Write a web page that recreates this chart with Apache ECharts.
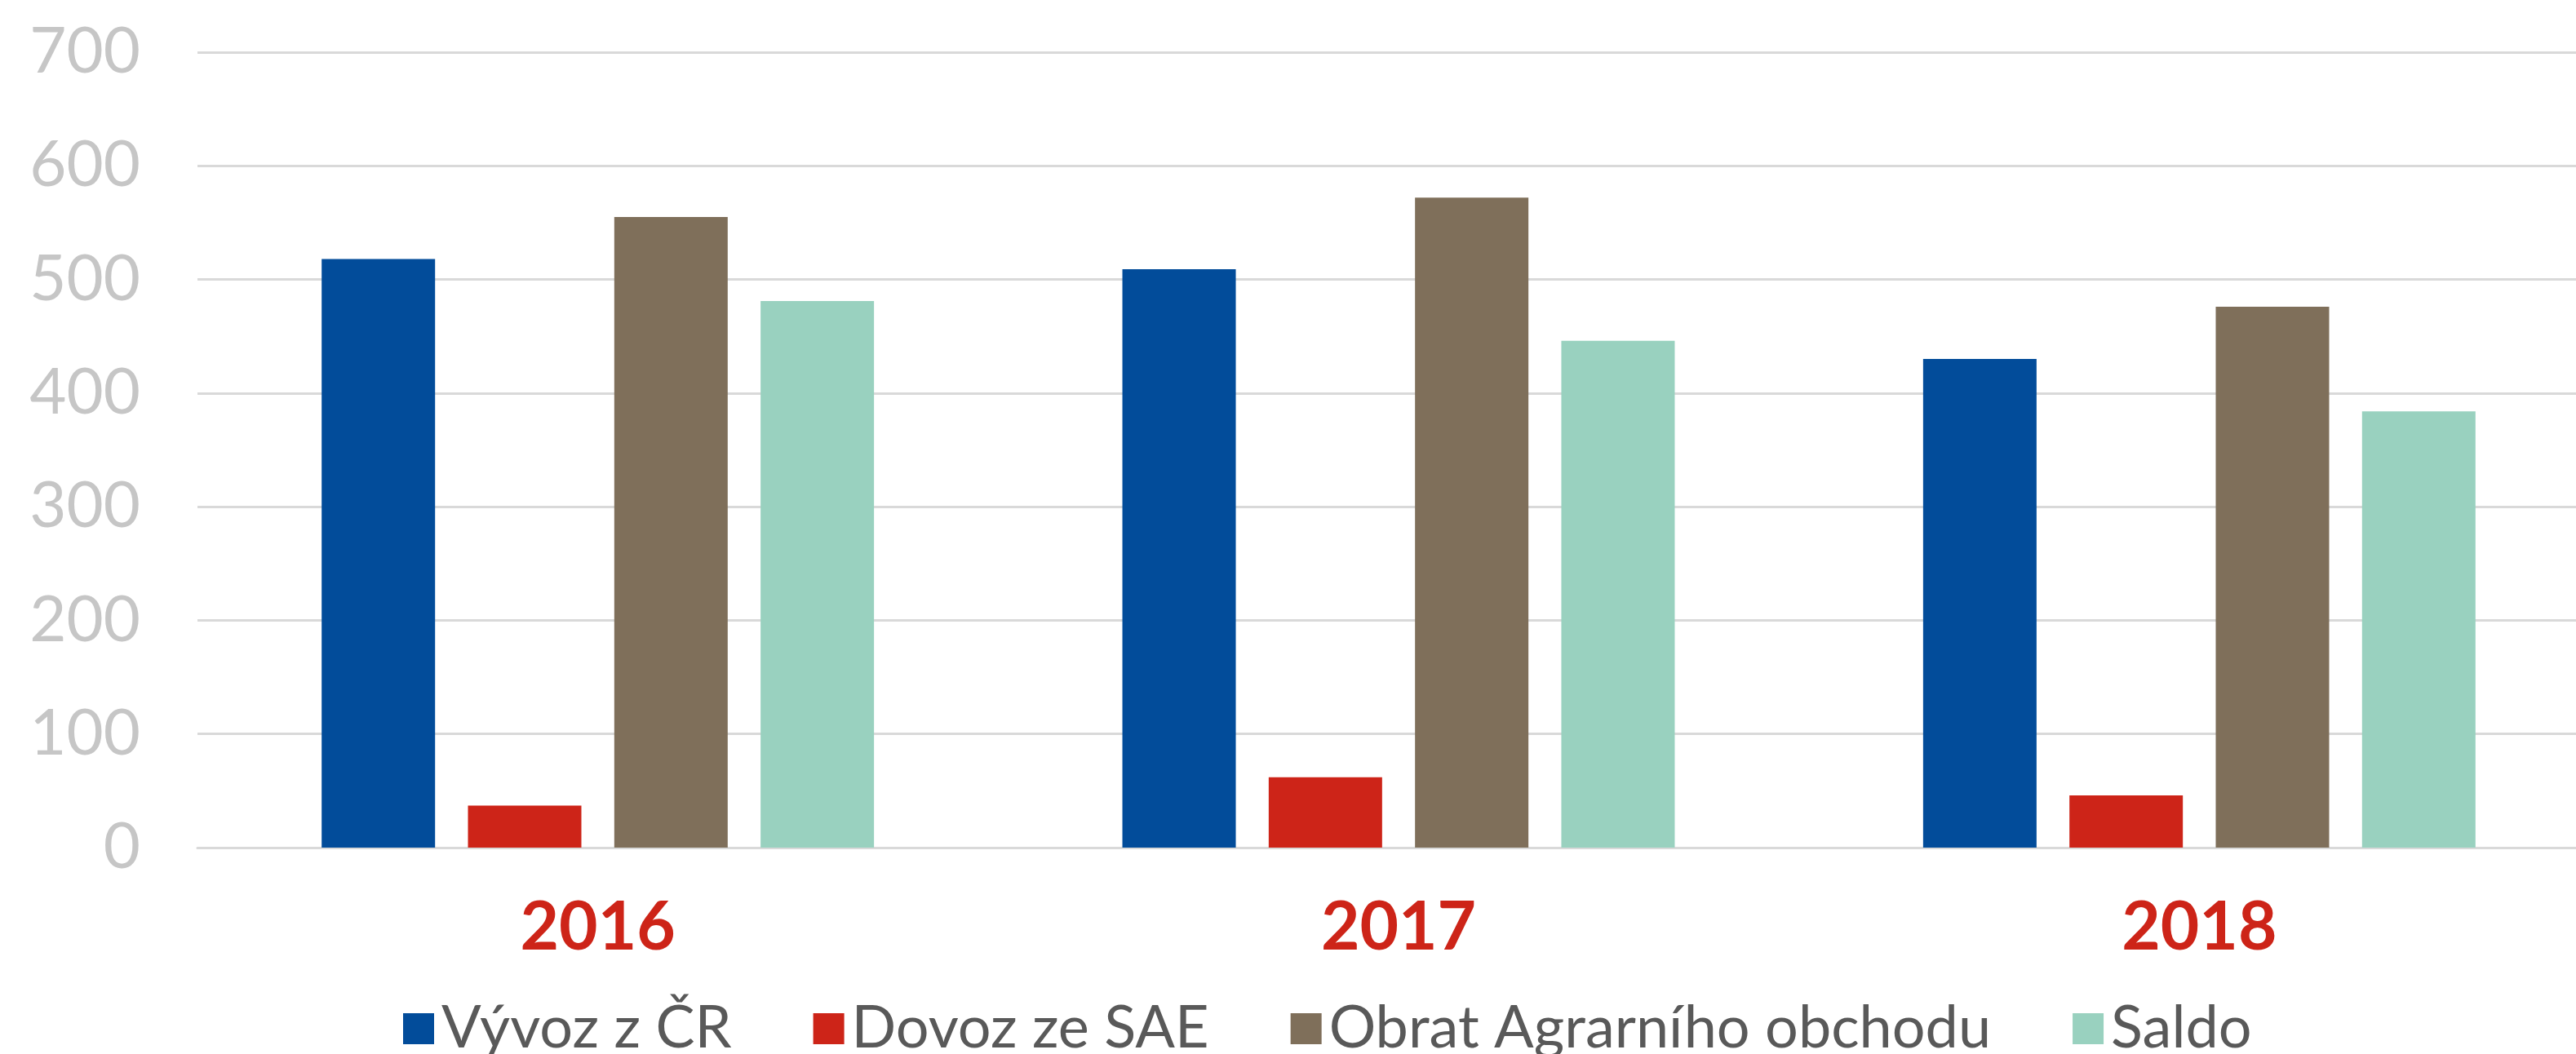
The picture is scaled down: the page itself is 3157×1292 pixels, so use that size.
<!DOCTYPE html>
<html>
<head>
<meta charset="utf-8">
<script src="https://cdn.jsdelivr.net/npm/echarts@6/dist/echarts.min.js"></script>
<style>
  html, body { margin: 0; padding: 0; background: #fff; overflow: hidden; }
  /* chart a bit wider than the window: the original plot runs past the right edge */
  #chart { width: 3186px; height: 1292px; }
</style>
</head>
<body>
<div id="chart"></div>
<script>
const years = ['2016', '2017', '2018'];
const vyvoz = [518, 509, 430];
const dovoz = [37, 62, 46];
const obrat = [555, 572, 476];
const saldo = [481, 446, 384];
const seriesNames = ['Vývoz z ČR', 'Dovoz ze SAE', 'Obrat Agrarního obchodu', 'Saldo'];
const colors = ['#024C9A', '#CD2418', '#7F6F5A', '#99D1BF'];

const myChart = echarts.init(document.getElementById('chart'));

const font = 'Lato, "Open Sans", sans-serif';

const option = {
  animation: false,
  color: colors,
  grid: {
    left: 242,
    right: 0,
    top: 64,
    bottom: 253
  },
  legend: {
    left: 489,
    top: 1220,
    itemWidth: 38,
    itemHeight: 38,
    itemGap: 100,
    icon: 'rect',
    textStyle: {
      fontFamily: font,
      fontSize: 72,
      color: '#595959',
      padding: [0, 0, 0, 4]
    },
    data: seriesNames
  },
  xAxis: {
    type: 'category',
    data: years,
    axisLine: { lineStyle: { color: '#D9D9D9', width: 3 } },
    axisTick: { show: false },
    axisLabel: {
      color: '#CD2418',
      fontFamily: font,
      fontWeight: 'bold',
      fontSize: 82,
      margin: 58
    }
  },
  yAxis: {
    type: 'value',
    min: 0,
    max: 700,
    interval: 100,
    axisLine: { show: false },
    axisTick: { show: false },
    splitLine: { lineStyle: { color: '#D9D9D9', width: 3 } },
    axisLabel: {
      color: '#C6C6C6',
      fontFamily: font,
      fontSize: 78,
      margin: 70
    }
  },
  series: [
    { name: seriesNames[0], type: 'bar', data: vyvoz, barWidth: 139, barGap: '29%' },
    { name: seriesNames[1], type: 'bar', data: dovoz, barWidth: 139, barGap: '29%' },
    { name: seriesNames[2], type: 'bar', data: obrat, barWidth: 139, barGap: '29%' },
    { name: seriesNames[3], type: 'bar', data: saldo, barWidth: 139, barGap: '29%' }
  ]
};

myChart.setOption(option);
</script>
</body>
</html>
